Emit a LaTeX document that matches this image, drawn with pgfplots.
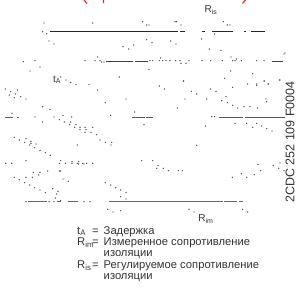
\documentclass[border=0pt]{standalone}
\usepackage{fontspec}
\setmainfont{Liberation Sans}
\usepackage{pgfplots}
\pgfplotsset{compat=1.18}
\definecolor{txt}{HTML}{333333}
\definecolor{dot}{HTML}{555555}
\definecolor{redmark}{HTML}{F02020}
\begin{document}
\begin{tikzpicture}
\begin{axis}[
  width=302pt, height=289pt, scale only axis,
  xmin=0, xmax=302, ymin=0, ymax=289, y dir=reverse,
  hide axis, clip=false, unbounded coords=jump,
]
% horizontal line fragments
\addplot[black!85, line width=1pt] coordinates {
 (50,32)(178,32) (nan,nan) (179.5,32)(184.5,32) (nan,nan) (202,32)(204.5,32) (nan,nan)
 (212,32)(233,32) (nan,nan) (244,32)(246,32) (nan,nan) (251,32)(265,32)};
\addplot[black!75, line width=0.9pt] coordinates {
 (106,61)(133,61) (nan,nan) (134.5,61)(148,61) (nan,nan) (272,61)(283,61)};
\addplot[black!65, line width=0.9pt] coordinates {
 (5,117)(12.7,117) (nan,nan) (16.7,117)(19,117) (nan,nan) (131.7,117)(145,117) (nan,nan)
 (146,117)(153.3,117) (nan,nan) (219.3,117)(243,117) (nan,nan) (244.5,117)(285,117)};
\addplot[black!60, line width=0.9pt] coordinates {
 (28.3,201.7)(46.7,201.7) (nan,nan) (56.7,201.7)(60.7,201.7) (nan,nan) (68.3,201.7)(77.7,201.7) (nan,nan)
 (109,201.7)(222.7,201.7) (nan,nan) (224.3,201.7)(236.7,201.7) (nan,nan) (238.7,201.7)(243.3,201.7)};
% red fragments at the top
\addplot[redmark, line width=1.1pt] coordinates {(84,0)(87,3.5) (nan,nan) (103.5,0)(103.5,3.2) (nan,nan) (245.5,0)(242.5,3.5)};
% scattered dots
\addplot[only marks, mark=*, mark size=0.45pt, draw=dot, fill=dot] coordinates {
(44,23)(92.7,23)(142.7,21.7)(146.7,25)(149,25)(175,21.7)(176.5,21.7)(181,25)(223.3,21.7)(227.3,25)(230,25)
(42.7,31.7)(46.7,33.7)(214.7,34)
(49,41)(54,44)(123,46.7)(128.7,49)(133.7,45)(146.7,39.7)(152,42.7)(170.7,41)(176,44)(201.7,39)(209.3,49)(221,50.3)(285,53)
(23.3,61.7)(35,60.7)(40,67)(30,71)(85,60.7)(95,60.7)(97.7,57)(100,60.7)(101.7,62)(104,62)(150,60.7)(152.7,60.7)(159.3,60.7)(160.7,58)(162.7,60.7)(166,60.7)(170,60.7)(175.7,60.7)(180,60.7)(181,63.3)(186,63.3)(189,60.7)(202,60.7)(210.7,60.7)(222.3,60.7)(231,57)(232.7,60.7)(235,60.7)(236.3,59)(241.3,60.7)(256.7,60.7)(264,60.7)(284,54)
(149,69.3)(230.7,71)(252.7,73.7)(279.3,80)(264,81)(224.7,78.3)(183.7,81)(247.7,84)(256.7,84)(268,84)(256.7,85.3)
(60.7,77)(66,80)(70.7,82.5)(76,84.5)(89,84.5)(119.3,77)(97.7,90)(105.3,102.7)(126,99)(42.7,106.7)(50,109.3)(134.7,112)
(5.3,89)(10.7,91.7)(9.3,95)(15.7,94)(17.3,90)(14.3,97.7)(20.7,96.7)(26,99)
(159.3,86)(164.3,89)(183.3,81)(191.3,91.3)(196.7,94)(210.7,89)(216,91.3)(232.7,87.3)(264.3,81)(268.3,84)(280,80)
(185,99)(206.7,99)(226,96.7)(221.7,100.7)(227.3,102.7)(232.7,105.3)(237.7,108)(244,106.7)(250,106.7)(257.7,108)(266,99)(266.7,101.7)(177.3,108)
(12,113.3)(35,117)(42.7,122)(54,117)(59.3,119.7)(63,115.3)(64.3,122)(69.7,124.7)(71.7,117)(70.7,122)(76,124.7)(74.7,127.3)(80,127.3)(85,127.3)(80,129.7)(86,129.7)(85,132.3)(91,132.3)(92.7,127.3)(96.7,134.7)(100,140)(105.3,142.3)(111.7,142.3)(110.7,115.3)(144,124.7)(211.7,116.7)(214.7,116.7)
(205.3,126)(235,123.3)(246.7,123.3)(256.7,123.3)(252.7,127.3)(261.7,126)(266.7,128.7)(272,131)(196.7,145.3)
(14.3,137.3)(19.3,140)(26,138.7)(24.7,142.3)(31,141.3)(31,143.3)(29.7,145)(36,144)(34.7,147.7)(40,150.3)(45.3,152.7)(50.3,155.3)(77.3,145)(111,145)
(5.7,163.3)(11.7,163.3)(26,160.7)(59.3,163.3)(60.7,160.7)(65.3,163.3)(72,161.7)(72,163.3)(77.3,163.3)(78.7,161.7)(78.7,164)(82.7,163.3)(84,164)(86.7,163.3)(92.7,163.3)(141.7,160.7)(152.7,160.7)(158,165.7)(156.7,168.3)(163.3,168.3)(168.3,170.7)(178.3,170.7)(182.3,170.7)
(33.3,172.3)(40,172.3)(38.7,175)(47.7,171)(59.3,171)(60.7,171)(14.3,177.3)(19.3,179.7)(26,177.3)(32.3,177.3)(24.7,182.7)(29.7,185)(34.7,187.7)(40,190)(45.3,192.7)(63,179)(68.3,181.3)(52.7,188.7)(58,191.3)(56.7,194)(55.3,198)(60.7,200.7)(105.3,182.7)(110.7,185)(115.7,187.7)(120.7,190)(126,192.7)(120.7,196.7)(126,199)
(232.3,177.3)(241.3,173.7)(246.7,177.3)(254.3,174.7)(258,164.3)(260.7,170.7)(273.3,165.7)(280,163)(278.7,168.3)(284,170.7)
(26,201.7)(49,201.7)(54,201.7)(84,201.7)(90,201.7)
(107.7,209.3)(113,212)(120.7,210.7)(189,209.3)(194,212)(242.7,209.3)(247.7,212)
};
% labels
\node[txt, font=\fontsize{10}{11}\selectfont] at (axis cs:211,10) {R\textsubscript{is}};
\node[txt, font=\fontsize{10}{11}\selectfont] at (axis cs:57,80) {t\textsubscript{A}};
\node[txt, font=\fontsize{10}{11}\selectfont] at (axis cs:206,219) {R\textsubscript{im}};
\node[txt, rotate=90, font=\fontsize{12.5}{13}\selectfont] at (axis cs:290,142) {2CDC 252 109 F0004};
\node[txt, anchor=north west, inner sep=0pt, font=\fontsize{11.2}{11.4}\selectfont] at (axis cs:77,226) {%
 \renewcommand{\arraystretch}{1}%
 \begin{tabular}{@{}l@{}l@{\hspace{5pt}}l@{}}
 \makebox[15pt][l]{t\textsubscript{A}} & = & Задержка\\
 \makebox[15pt][l]{R\textsubscript{im}} & = & Измеренное сопротивление\\
  & & изоляции\\
 \makebox[15pt][l]{R\textsubscript{is}} & = & Регулируемое сопротивление\\
  & & изоляции
 \end{tabular}};
\coordinate (bl) at (axis cs:0,289);
\coordinate (tr) at (axis cs:302,0);
\end{axis}
\pgfresetboundingbox
\path (bl) rectangle (tr);
\end{tikzpicture}
\end{document}
